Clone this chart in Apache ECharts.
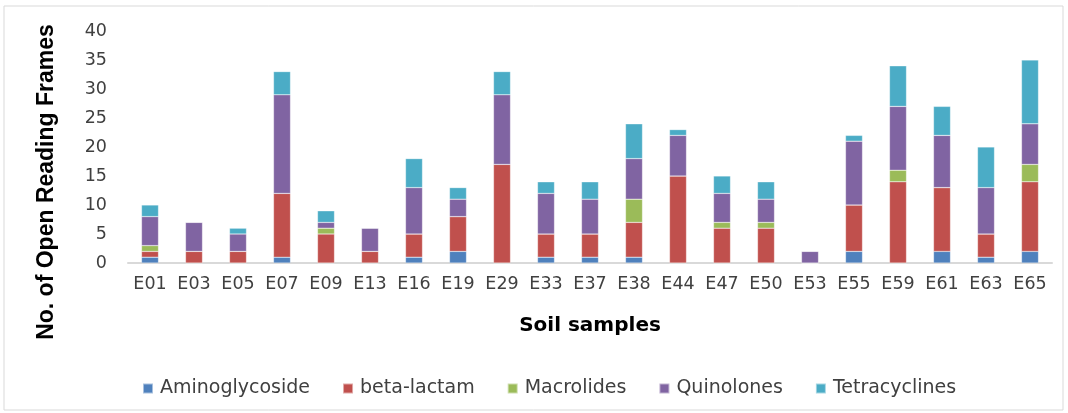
<!DOCTYPE html>
<html>
<head>
<meta charset="utf-8">
<script src="https://cdn.jsdelivr.net/npm/echarts@6/dist/echarts.min.js"></script>
<style>
  html, body { margin: 0; padding: 0; background: #fff; }
  #chart { width: 1068px; height: 413px; }
</style>
</head>
<body>
<div id="chart"></div>
<script>
// Soil samples on the x axis
const samples = ['E01','E03','E05','E07','E09','E13','E16','E19','E29','E33','E37','E38','E44','E47','E50','E53','E55','E59','E61','E63','E65'];

// ORF counts per antibiotic class, one value per sample
const aminoglycoside = [1,0,0,1,0,0,1,2,0,1,1,1,0,0,0,0,2,0,2,1,2];
const betaLactam     = [1,2,2,11,5,2,4,6,17,4,4,6,15,6,6,0,8,14,11,4,12];
const macrolides     = [1,0,0,0,1,0,0,0,0,0,0,4,0,1,1,0,0,2,0,0,3];
const quinolones     = [5,5,3,17,1,4,8,3,12,7,6,7,7,5,4,2,11,11,9,8,7];
const tetracyclines  = [2,0,1,4,2,0,5,2,4,2,3,6,1,3,3,0,1,7,5,7,11];

const yTicks = [0,5,10,15,20,25,30,35,40];

const FONT = 'DejaVu Sans';

const classes = [
  { name: 'Aminoglycoside', data: aminoglycoside, color: '#4F81BD' },
  { name: 'beta-lactam',    data: betaLactam,     color: '#C0504D' },
  { name: 'Macrolides',     data: macrolides,     color: '#9BBB59' },
  { name: 'Quinolones',     data: quinolones,     color: '#8064A2' },
  { name: 'Tetracyclines',  data: tetracyclines,  color: '#4BACC6' }
];

const chart = echarts.init(document.getElementById('chart'), null, { renderer: 'canvas' });

chart.setOption({
  animation: false,
  backgroundColor: '#fff',
  textStyle: { fontFamily: FONT },
  graphic: [
    {
      // outer frame
      type: 'rect',
      shape: { x: 4, y: 6, width: 1059, height: 404 },
      style: { fill: 'none', stroke: '#d9d9d9', lineWidth: 1 },
      silent: true
    },
    {
      // y axis title
      type: 'text',
      x: 47,
      y: 182,
      rotation: Math.PI / 2,
      style: {
        text: 'No. of Open Reading Frames',
        font: 'bold 23px "Liberation Sans"',
        fill: '#000',
        align: 'center',
        verticalAlign: 'middle'
      },
      silent: true
    }
  ],
  grid: { left: 128, right: 16, top: 31, bottom: 150 },
  legend: {
    top: 374,
    left: 137,
    itemWidth: 10,
    itemHeight: 10,
    itemGap: 32,
    icon: 'rect',
    textStyle: { fontFamily: FONT, fontSize: 19, color: '#404040', padding: [0, 0, 0, 2] },
    data: classes.map(c => c.name)
  },
  xAxis: {
    type: 'category',
    data: samples,
    axisLine: { lineStyle: { color: '#d9d9d9', width: 2 } },
    axisTick: { show: false },
    axisLabel: { fontFamily: FONT, fontSize: 17.5, color: '#404040', margin: 12, interval: 0 },
    name: 'Soil samples',
    nameLocation: 'middle',
    nameGap: 53,
    nameTextStyle: { fontFamily: FONT, fontSize: 20, fontWeight: 'bold', color: '#000' }
  },
  yAxis: {
    type: 'value',
    min: yTicks[0],
    max: yTicks[yTicks.length - 1],
    interval: 5,
    splitLine: { show: false },
    axisLine: { show: false },
    axisTick: { show: false },
    axisLabel: { fontFamily: FONT, fontSize: 17.5, color: '#404040', margin: 21 }
  },
  series: classes.map(c => ({
    name: c.name,
    type: 'bar',
    stack: 'orf',
    barWidth: 17,
    data: c.data,
    itemStyle: { color: c.color, borderColor: 'rgba(255,255,255,0.5)', borderWidth: 0.5 }
  }))
});
</script>
</body>
</html>
